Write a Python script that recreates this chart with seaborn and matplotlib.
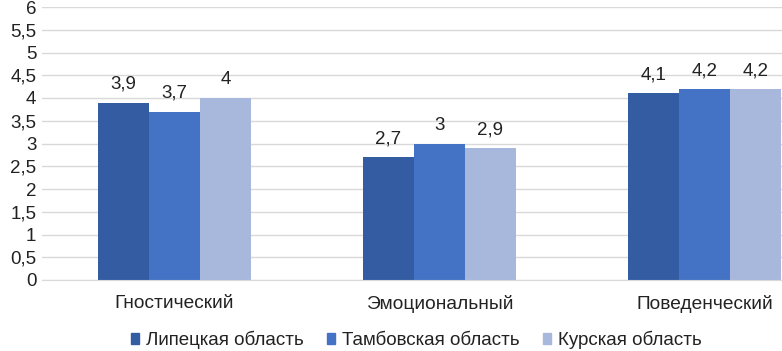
import seaborn as sns
import pandas as pd
import numpy as np
import matplotlib.pyplot as plt

categories = ['Гностический', 'Эмоциональный', 'Поведенческий']
regions = ['Липецкая область', 'Тамбовская область', 'Курская область']
lipetsk = [3.9, 2.7, 4.1]
tambov = [3.7, 3.0, 4.2]
kursk = [4.0, 2.9, 4.2]
colors = ['#345ca3', '#4472c4', '#a8b7dc']

df = pd.DataFrame({
    'category': categories * 3,
    'region': [regions[0]] * 3 + [regions[1]] * 3 + [regions[2]] * 3,
    'value': lipetsk + tambov + kursk,
})

sns.set_style('white')
plt.rcParams['font.family'] = ['Liberation Sans', 'DejaVu Sans']

fig = plt.figure(figsize=(7.82, 3.51), dpi=100)
ax = fig.add_axes([42 / 782, (351 - 280) / 351, 795 / 782, 273 / 351])

sns.barplot(data=df, x='category', y='value', hue='region', palette=colors,
            width=0.577, gap=0, saturation=1, linewidth=0, ax=ax, legend=False)

for cont in ax.containers:
    ax.bar_label(cont, labels=[f'{v:g}'.replace('.', ',') for v in cont.datavalues],
                 padding=7, fontsize=13.5, color='#222222')

ax.set_xlim(-0.5, 2.5)
ax.set_ylim(0, 6)
ticks = np.arange(0, 6.01, 0.5)
ax.set_yticks(ticks)
ax.set_yticklabels([f'{t:g}'.replace('.', ',') for t in ticks], fontsize=13.5, color='#222222')
ax.tick_params(axis='x', labelsize=13.8, colors='#222222', pad=11, length=0)
ax.tick_params(axis='y', length=0, pad=4)
ax.yaxis.grid(True, color='#d9d9d9', linewidth=1)
ax.set_axisbelow(True)
for s in ['top', 'right', 'left']:
    ax.spines[s].set_visible(False)
ax.spines['bottom'].set_color('#d9d9d9')
ax.set_xlabel('')
ax.set_ylabel('')

handles = [plt.Rectangle((0, 0), 1, 1, color=c) for c in colors]
fig.legend(handles, regions, loc='center', bbox_to_anchor=(416 / 782, 1 - 340 / 351),
           ncol=3, frameon=False, fontsize=13.5, handlelength=0.45, handleheight=0.45,
           handletextpad=0.35, columnspacing=1.25, labelcolor='#222222',
           borderpad=0, borderaxespad=0)

fig.savefig('out.png', dpi=100)
